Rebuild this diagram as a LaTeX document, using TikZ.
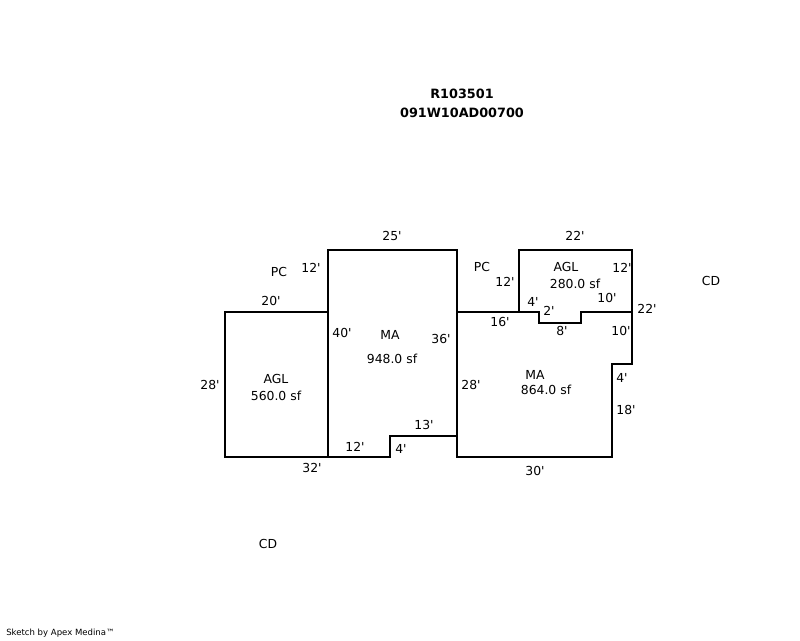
\documentclass[tikz,border=0pt]{standalone}
\usepackage{fontspec}
\setmainfont{DejaVu Sans}[Ligatures=TeXOff]
\tikzset{
  lbl/.style={inner sep=0pt,font=\fontsize{9.3}{10}\selectfont},
  ttl/.style={inner sep=0pt,font=\fontsize{9.6}{10}\selectfont\bfseries},
  foot/.style={inner sep=0pt,anchor=west,font=\fontsize{6.4}{8}\selectfont},
  wall/.style={draw=black,line width=1.6pt,line join=miter}
}
\begin{document}
\begin{tikzpicture}[x=0.75pt,y=-0.75pt]
\useasboundingbox (0,0) rectangle (800,640);
\fill[white] (0,0) rectangle (800,640);
% walls
\path[wall] (225,312) rectangle (328,457);
\path[wall] (328,250) -- (457,250) -- (457,436) -- (390,436) -- (390,457) -- (328,457) -- cycle;
\path[wall] (457,312) -- (539,312) -- (539,323) -- (581,323) -- (581,312) -- (632,312) -- (632,364) -- (612,364) -- (612,457) -- (457,457) -- cycle;
\path[wall] (519,312) -- (519,250) -- (632,250) -- (632,312);
% titles
\node[ttl] (t1) at (462,94) {R103501};
\node[ttl] (t2) at (462,113) {091W10AD00700};
% left
\node[lbl] (a1) at (392,236) {25'};
\node[lbl] (a2) at (311,268) {12'};
\node[lbl] (a3) at (279,272) {PC};
\node[lbl] (a4) at (271,301) {20'};
\node[lbl] (a5) at (210,385) {28'};
\node[lbl] (a6) at (276,379) {AGL};
\node[lbl] (a7) at (276,396) {560.0 sf};
\node[lbl] (a8) at (342,333) {40'};
\node[lbl] (a9) at (390,335) {MA};
\node[lbl] (a10) at (392,359) {948.0 sf};
\node[lbl] (a11) at (441,339) {36'};
\node[lbl] (a12) at (424,425) {13'};
\node[lbl] (a13) at (355,447) {12'};
\node[lbl] (a14) at (401,449) {4'};
\node[lbl] (a15) at (312,468) {32'};
% right
\node[lbl] (b1) at (482,267) {PC};
\node[lbl] (b2) at (505,282) {12'};
\node[lbl] (b3) at (575,236) {22'};
\node[lbl] (b4) at (566,267) {AGL};
\node[lbl] (b5) at (575,284) {280.0 sf};
\node[lbl] (b6) at (622,268) {12'};
\node[lbl] (b7) at (607,298) {10'};
\node[lbl] (b8) at (533,302) {4'};
\node[lbl] (b9) at (549,311) {2'};
\node[lbl] (b10) at (647,309) {22'};
\node[lbl] (b11) at (500,322) {16'};
\node[lbl] (b12) at (562,331) {8'};
\node[lbl] (b13) at (621,331) {10'};
\node[lbl] (b14) at (535,375) {MA};
\node[lbl] (b15) at (546,390) {864.0 sf};
\node[lbl] (b16) at (471,385) {28'};
\node[lbl] (b17) at (622,378) {4'};
\node[lbl] (b18) at (626,410) {18'};
\node[lbl] (b19) at (535,471) {30'};
\node[lbl] (c1) at (711,281) {CD};
\node[lbl] (c2) at (268,544) {CD};
\node[foot] (f) at (6,633) {Sketch by Apex Medina™};
\end{tikzpicture}
\end{document}
